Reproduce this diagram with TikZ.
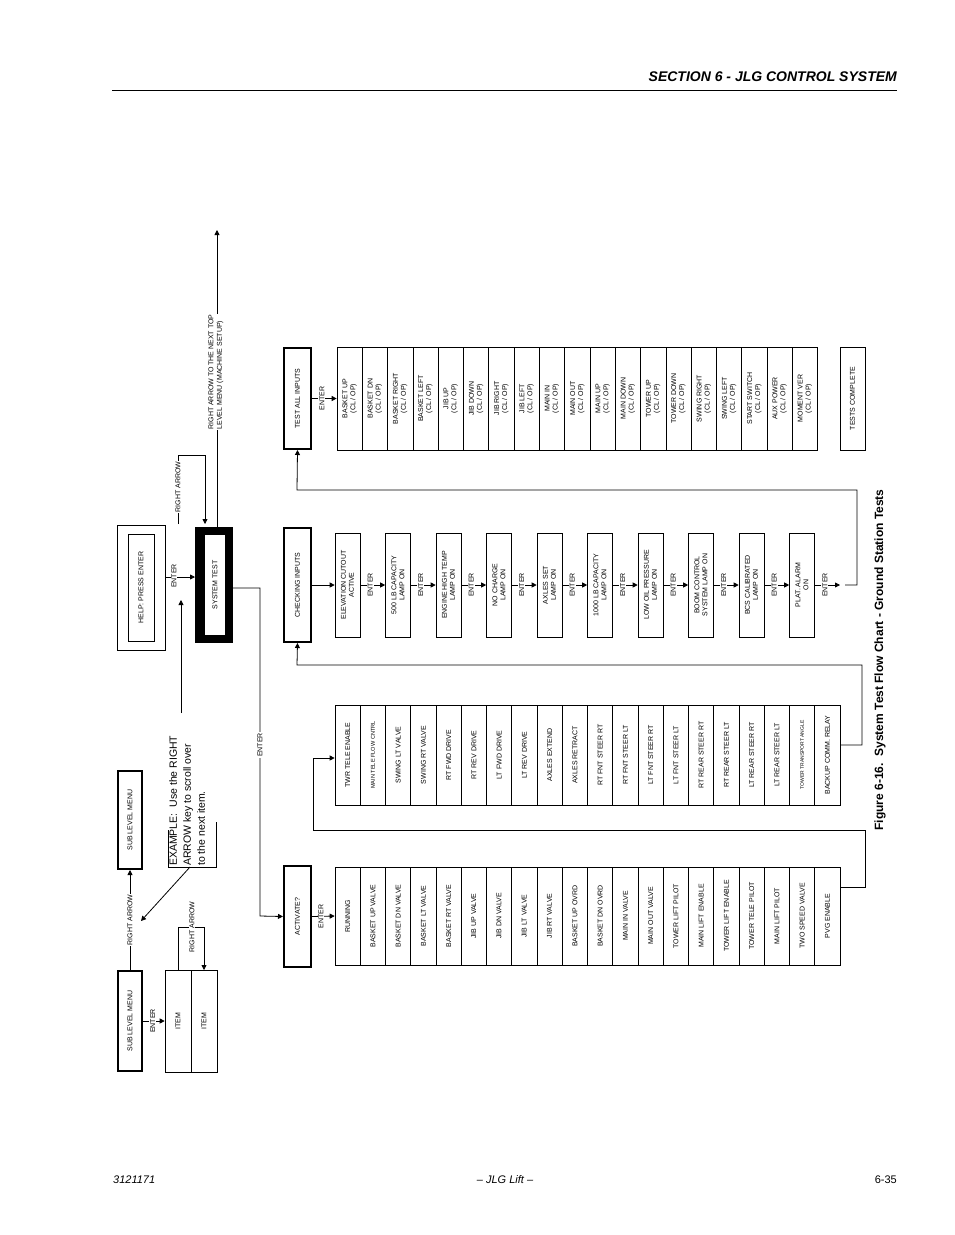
\documentclass[tikz,border=0pt]{standalone}
\usepackage{fontspec}
\setmainfont{Liberation Sans}
\usetikzlibrary{arrows.meta}
\begin{document}
\begin{tikzpicture}[x=1pt,y=-1pt]
\tikzset{
 cell/.style={draw, line width=0.6pt, rotate=90, inner sep=1pt, align=center, font=\fontsize{7}{8}\selectfont},
 thickbox/.style={draw, line width=2.4pt, rotate=90, inner sep=1pt, align=center, font=\fontsize{7}{8}\selectfont},
 lbl/.style={fill=white, rotate=90, inner sep=1pt, font=\fontsize{7}{8}\selectfont},
 conn/.style={line width=0.8pt},
 arr/.style={line width=0.8pt, -{Triangle[length=5pt,width=5pt]}},
}
\useasboundingbox (0,0) rectangle (954,1235);
\fill[white] (0,0) rectangle (954,1235);
% header / footer
\node[anchor=base east, inner sep=0, font=\fontsize{14}{16}\selectfont\bfseries\itshape] (hdr) at (897,81) {SECTION 6 - JLG CONTROL SYSTEM};
\draw[line width=0.8pt] (112,90) -- (897,90);
\node[anchor=base west, inner sep=0, font=\fontsize{11}{13}\selectfont\itshape] (f1) at (113,1183) {3121171};
\node[anchor=base, inner sep=0, font=\fontsize{11}{13}\selectfont\itshape] (f2) at (505,1183) {– JLG Lift –};
\node[anchor=base east, inner sep=0, font=\fontsize{11}{13}\selectfont] (f3) at (897,1183) {6-35};
% caption
\node[rotate=90, inner sep=0, font=\fontsize{12}{14}\selectfont\bfseries] (cap) at (880,660) {Figure 6-16.\ \ System Test Flow Chart - Ground Station Tests};

% sub level menus
\node[thickbox, minimum width=99.6pt, minimum height=23.6pt] (sub1) at (130,1021) {SUB LEVEL MENU};
\node[thickbox, minimum width=97.6pt, minimum height=23.6pt] (sub2) at (130,820) {SUB LEVEL MENU};
\node[cell, minimum width=102pt, minimum height=26pt] (item1) at (178,1021) {ITEM};
\node[cell, minimum width=102pt, minimum height=26pt] (item2) at (204,1021) {ITEM};
\draw[arr] (sub1.south) -- (item1.north) node[lbl, pos=0.45] {ENTER};
\draw[arr] (sub1.east) -- (sub2.west) node[lbl, midway] {RIGHT ARROW};
\coordinate (ib1) at (178,927); \coordinate (ib2) at (204,927);
\draw[arr] (178,970) -- (ib1) -- (ib2) -- (204,970);
\node[lbl] (ra2) at (192,927) {RIGHT ARROW};
% example text
\node[rotate=90, anchor=north west, align=left, inner sep=1pt, font=\fontsize{10.5}{14}\selectfont] (ex) at (168,867) {EXAMPLE:\ \ Use the RIGHT\\ARROW key to scroll over\\to the next item.};
\coordinate (exa) at (168,867); \coordinate (exb) at (216,867);
\draw[conn] (168,830) -- (exa) -- (exb) -- (216,822);
\coordinate (exm) at (190,867); \coordinate (diag) at (141,921);
\draw[arr] (exm) -- (diag);
\coordinate (up1) at (181,713); \coordinate (up2) at (181,600);
\draw[arr] (up1) -- (up2);

% help and system test
\draw[line width=0.8pt] (117,525) rectangle (165,650);
\node[cell, minimum width=107pt, minimum height=26pt] (help) at (141,587.5) {HELP: PRESS ENTER};
\fill[black] (195,527) rectangle (233,643);
\fill[white] (205,535) rectangle (225,635);
\node[rotate=90, inner sep=0, font=\fontsize{7}{8}\selectfont] (st) at (215,585) {SYSTEM TEST};
\coordinate (stl) at (195,577); \coordinate (hr) at (165,577);
\draw[arr] (hr) -- (stl);
\node[lbl] (en0) at (174,576) {ENTER};
\coordinate (r1) at (178,524); \coordinate (r2) at (178,455); \coordinate (r3) at (205,455); \coordinate (r4) at (205,524);
\draw[arr] (r1) -- (r2) -- (r3) -- (r4);
\node[lbl] (ra1) at (178,487) {RIGHT ARROW};
\coordinate (t1) at (217,527); \coordinate (t2) at (217,230);
\draw[arr] (t1) -- (t2);
\node[fill=white, rotate=90, inner sep=1pt, align=left, font=\fontsize{7}{8.5}\selectfont] (ranext) at (216,372) {RIGHT ARROW TO THE NEXT TOP\\LEVEL MENU (MACHINE SETUP)};

% activate column
\node[thickbox, minimum width=100.6pt, minimum height=26.6pt] (act) at (297.5,916.5) {ACTIVATE?};
\coordinate (s1) at (233,588); \coordinate (s2) at (260,588); \coordinate (s3) at (260,916);
\draw[arr] (s1) -- (s2) -- (s3) -- (act.north);
\node[lbl] (en1) at (260,745) {ENTER};
\foreach \t [count=\i from 0] in {RUNNING, BASKET UP VALVE, BASKET DN VALVE, BASKET LT VALVE, BASKET RT VALVE, JIB UP VALVE, JIB DN VALVE, JIB LT VALVE, JIB RT VALVE, BASKET UP OVRD, BASKET DN OVRD, MAIN IN VALVE, MAIN OUT VALVE, TOWER LIFT PILOT, MAIN LIFT ENABLE, TOWER LIFT ENABLE, TOWER TELE PILOT, MAIN LIFT PILOT, TWO SPEED VALVE, PVG ENABLE}
  \node[cell, minimum width=98pt, minimum height=25.25pt] (a\i) at ({347.6+25.25*\i},916) {\t};
\draw[arr] (act.south) -- (a0.north) node[lbl, pos=0.4] {ENTER};
% column 2
\foreach \t [count=\i from 0] in {TWR TELE ENABLE, {\fontsize{5.6}{6}\selectfont MAIN TELE FLOW CNTRL}, SWING LT VALVE, SWING RT VALVE, RT FWD DRIVE, RT REV DRIVE, LT FWD DRIVE, LT REV DRIVE, AXLES EXTEND, AXLES RETRACT, RT FNT STEER RT, RT FNT STEER LT, LT FNT STEER RT, LT FNT STEER LT, RT REAR STEER RT, RT REAR STEER LT, LT REAR STEER RT, LT REAR STEER LT, {\fontsize{5}{6}\selectfont TOWER TRANSPORT ANGLE}, BACKUP COMM. RELAY}
  \node[cell, minimum width=100pt, minimum height=25.25pt] (b\i) at ({347.6+25.25*\i},755) {\t};
\coordinate (p1) at (840,887); \coordinate (p2) at (865,887); \coordinate (p3) at (865,830); \coordinate (p4) at (313,830); \coordinate (p5) at (313,758);
\draw[arr] (p1) -- (p2) -- (p3) -- (p4) -- (p5) -- (b0.north |- p5);

% checking inputs
\node[thickbox, minimum width=113.6pt, minimum height=26.6pt] (chk) at (297.5,585) {CHECKING INPUTS};
\foreach \t [count=\i from 0] in {ELEVATION CUTOUT\\ACTIVE, 500 LB CAPACITY\\LAMP ON, ENGINE HIGH TEMP\\LAMP ON, NO CHARGE\\LAMP ON, AXLES SET\\LAMP ON, 1000 LB CAPACITY\\LAMP ON, LOW OIL PRESSURE\\LAMP ON, BOOM CONTROL\\SYSTEM LAMP ON, BCS CALIBRATED\\LAMP ON, PLAT. ALARM\\ON}
  \node[cell, minimum width=104pt, minimum height=25pt] (c\i) at ({347.5+50.5*\i},585) {\t};
\draw[arr] (chk.south) -- (c0.north);
\foreach \i [evaluate=\i as \j using int(\i+1)] in {0,...,8}
  \draw[arr] (c\i.south) -- (c\j.north) node[lbl, pos=0.4] {ENTER};
\coordinate (e9) at (840,585);
\draw[arr] (c9.south) -- (e9) node[lbl, pos=0.4] {ENTER};
\coordinate (k1) at (862,745); \coordinate (k2) at (862,665); \coordinate (k3) at (297,665);
\draw[arr] (b19.south |- k1) -- (k1) -- (k2) -- (k3) -- (chk.west);

% test all inputs
\node[thickbox, minimum width=100.6pt, minimum height=26.6pt] (tai) at (297.5,398.5) {TEST ALL INPUTS};
\foreach \t [count=\i from 0] in {BASKET UP, BASKET DN, BASKET RIGHT, BASKET LEFT, JIB UP, JIB DOWN, JIB RIGHT, JIB LEFT, MAIN IN, MAIN OUT, MAIN UP, MAIN DOWN, TOWER UP, TOWER DOWN, SWING RIGHT, SWING LEFT, START SWITCH, AUX POWER, MOMENT VER}
  \node[cell, minimum width=103pt, minimum height=25.3pt] (d\i) at ({349.6+25.3*\i},398.5) {\t\\(CL / OP)};
\draw[arr] (tai.south) -- (d0.north) node[lbl, pos=0.4] {ENTER};
\node[cell, minimum width=103pt, minimum height=25pt] (tc) at (852.5,398.5) {TESTS COMPLETE};
\coordinate (q1) at (845,585); \coordinate (q2) at (857,585); \coordinate (q3) at (857,490); \coordinate (q4) at (297,490);
\draw[arr] (q1) -- (q2) -- (q3) -- (q4) -- (tai.west);
\end{tikzpicture}
\end{document}
